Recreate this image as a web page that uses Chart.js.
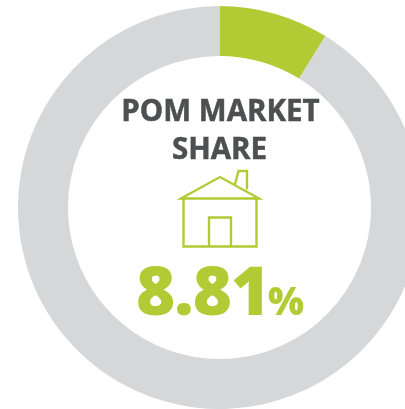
<!DOCTYPE html>
<html>
<head>
<meta charset="utf-8">
<style>
html,body{margin:0;padding:0;width:405px;height:409px;overflow:hidden;background:#fff}
#wrap{position:absolute;left:0;top:0;width:405px;height:409px;overflow:hidden}
canvas{display:block}
</style>
<script src="https://cdn.jsdelivr.net/npm/chart.js@4"></script>
</head>
<body>
<div id="wrap"><canvas id="c" width="440" height="409"></canvas></div>
<script>
const categories = ['POM market share', 'Other'];
const shareValues = [8.81, 91.19];
const sliceColors = ['#b2cb35', '#d6d7d9'];
const titleLines = ['POM MARKET', 'SHARE'];
const valueLabel = '8.81';
const unitLabel = '%';

const centerPlugin = {
  id: 'center',
  afterDraw(chart) {
    const g = chart.ctx;
    g.save();
    g.textBaseline = 'alphabetic';
    g.textAlign = 'center';
    g.fillStyle = '#4d4f51';
    g.strokeStyle = '#4d4f51';
    g.lineWidth = 0.5;
    g.font = 'bold 29.5px "Open Sans"';
    g.fillText(titleLines[0], 220.5, 121);
    g.strokeText(titleLines[0], 220.5, 121);
    g.fillText(titleLines[1], 219.5, 159);
    g.strokeText(titleLines[1], 219.5, 159);

    g.strokeStyle = '#b2cb35';
    g.lineWidth = 2.4;
    g.lineJoin = 'miter';
    g.miterLimit = 10;
    g.beginPath();
    g.moveTo(181, 198.5); g.lineTo(220, 177); g.lineTo(259, 198.5); g.closePath();
    g.moveTo(183.5, 198.5); g.lineTo(183.5, 246.5); g.lineTo(256.5, 246.5); g.lineTo(256.5, 198.5);
    g.moveTo(209, 246.5); g.lineTo(209, 217.5); g.lineTo(231, 217.5); g.lineTo(231, 246.5);
    g.moveTo(235, 184); g.lineTo(238.5, 171); g.lineTo(247, 171); g.lineTo(247, 189.5);
    g.stroke();

    g.textAlign = 'left';
    g.fillStyle = '#b2cb35';
    g.font = '800 67px "Open Sans"';
    g.letterSpacing = '-1px';
    g.fillText(valueLabel, 136, 315);
    g.letterSpacing = '0px';
    g.font = '800 38px "Open Sans"';
    g.fillText(unitLabel, 268, 315);
    g.restore();
  }
};

new Chart(document.getElementById('c'), {
  type: 'doughnut',
  data: {
    labels: categories,
    datasets: [{ data: shareValues, backgroundColor: sliceColors, borderWidth: 0 }]
  },
  options: {
    responsive: false,
    animation: false,
    cutout: '75.2%',
    layout: { padding: { top: 6, bottom: 0, left: 18, right: 19 } },
    plugins: { legend: { display: false }, tooltip: { enabled: false } }
  },
  plugins: [centerPlugin]
});
</script>
</body>
</html>
